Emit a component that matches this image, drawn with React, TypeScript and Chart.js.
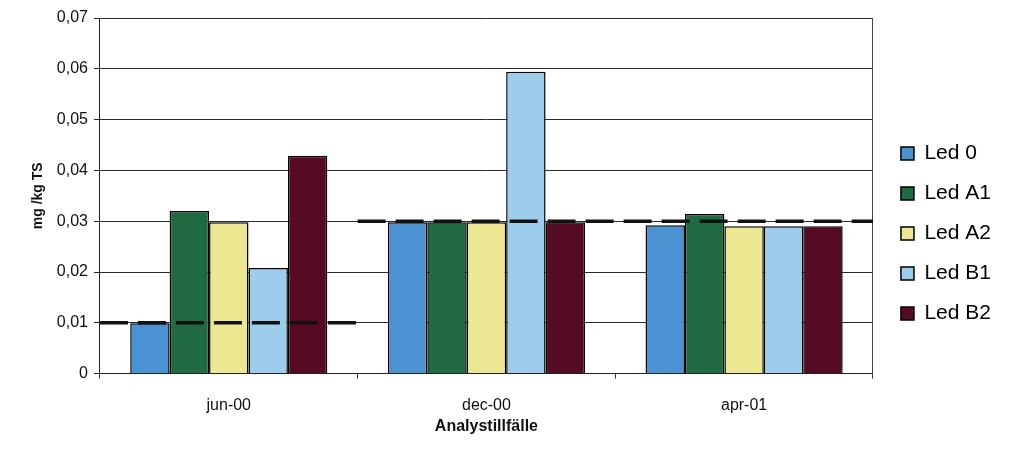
import React, { useEffect, useRef } from 'react';
import { Chart, registerables } from 'chart.js';

Chart.register(...registerables);

const FONT = "Arial, 'Liberation Sans', sans-serif";

const categories = ['jun-00', 'dec-00', 'apr-01'];
const seriesNames = ['Led 0', 'Led A1', 'Led A2', 'Led B1', 'Led B2'];
const led0 = [0.0099, 0.0298, 0.0292];
const ledA1 = [0.032, 0.0298, 0.0314];
const ledA2 = [0.0298, 0.0298, 0.029];
const ledB1 = [0.0208, 0.0594, 0.029];
const ledB2 = [0.0429, 0.0298, 0.029];
const limits = [0.01, 0.03, 0.03];
const yTicks = [0, 0.01, 0.02, 0.03, 0.04, 0.05, 0.06, 0.07];

const seriesValues = [led0, ledA1, ledA2, ledB1, ledB2];
const colors = ['#4a92d2', '#1f6a40', '#ece891', '#9dcdec', '#560a24'];

export default function App() {
  const ref = useRef<HTMLCanvasElement>(null);

  useEffect(() => {
    if (!ref.current) return;
    Chart.defaults.font.family = FONT;

    // limit line spans each category's full width (index ± 0.5 on the category scale)
    const limitPoints: { x: number; y: number }[] = [];
    limits.forEach((v, i) => {
      if (i > 0 && limits[i - 1] !== v) limitPoints.push({ x: i - 0.5, y: NaN });
      limitPoints.push({ x: i - 0.5, y: v }, { x: i + 0.5, y: v });
    });

    const barSets = seriesNames.map((name, k) => ({
      type: 'bar' as const,
      label: name,
      data: seriesValues[k],
      backgroundColor: colors[k],
      borderColor: '#000',
      borderWidth: 1.5,
      categoryPercentage: 0.765,
      barPercentage: 1,
      order: 2,
      xAxisID: 'x',
      yAxisID: 'y',
    }));

    const chart = new Chart(ref.current, {
      type: 'bar',
      data: {
        labels: categories,
        datasets: [
          ...barSets,
          {
            type: 'line' as const,
            label: 'limit',
            data: limitPoints as any,
            parsing: false,
            xAxisID: 'x',
            yAxisID: 'y',
            borderColor: '#111',
            borderWidth: 3.5,
            borderDash: [28, 10],
            pointRadius: 0,
            fill: false,
            spanGaps: false,
            order: 0,
          } as any,
        ],
      },
      options: {
        responsive: false,
        animation: false,
        layout: { padding: { left: 26, top: 18, right: 22, bottom: 22 } },
        plugins: {
          tooltip: { enabled: false },
          legend: {
            position: 'right',
            title: { display: true, text: ' ', font: { size: 5 }, padding: { top: 1, bottom: 2 } },
            labels: {
              boxWidth: 13,
              boxHeight: 13,
              padding: 19,
              color: '#000',
              font: { size: 21, family: FONT },
              filter: (item: any) => item.datasetIndex < seriesNames.length,
            },
          },
        },
        scales: {
          x: {
            type: 'category',
            grid: { offset: true, drawOnChartArea: false, drawTicks: true, tickLength: 5, color: '#333' },
            border: { color: '#222', width: 1 },
            ticks: { font: { size: 16, family: FONT }, color: '#111', padding: 17 },
            title: {
              display: true,
              text: 'Analystillfälle',
              color: '#111',
              font: { size: 16, weight: 'bold', family: FONT },
              padding: { top: -15, bottom: 4 },
            },
          },
          y: {
            min: 0,
            max: 0.07,
            afterBuildTicks: (s: any) => {
              s.ticks = yTicks.map((v) => ({ value: v }));
            },
            ticks: {
              font: { size: 16, family: FONT },
              color: '#111',
              padding: 6,
              callback: (v: any) => (Number(v) === 0 ? '0' : Number(v).toFixed(2).replace('.', ',')),
            },
            grid: { color: '#2a2a2a', lineWidth: 1, tickLength: 6 },
            border: { color: '#222', width: 1 },
            title: {
              display: true,
              text: 'mg /kg TS',
              color: '#111',
              font: { size: 14, weight: 'bold', family: FONT },
              padding: { top: 4, bottom: 4 },
            },
          },
          y2: {
            position: 'right',
            display: true,
            min: 0,
            max: 0.07,
            grid: { display: false },
            ticks: { display: false },
            border: { display: true, color: '#444', width: 1 },
            afterFit: (s: any) => {
              s.width = 9;
            },
          },
        },
      } as any,
    });
    return () => chart.destroy();
  }, []);

  return (
    <div style={{ position: 'absolute', left: 0, top: 0, width: 1023, height: 462, background: '#fff' }}>
      <canvas ref={ref} width={1023} height={462} />
    </div>
  );
}
